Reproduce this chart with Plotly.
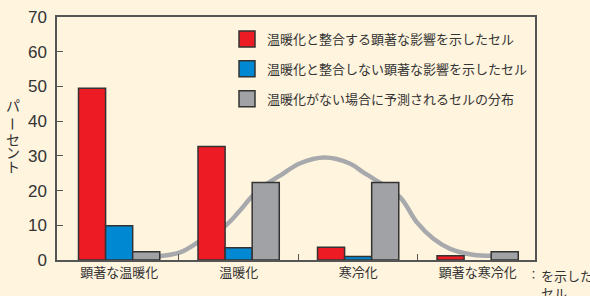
import plotly.graph_objects as go

categories = ["顕著な温暖化", "温暖化", "寒冷化", "顕著な寒冷化"]
series_names = [
    "温暖化と整合する顕著な影響を示したセル",
    "温暖化と整合しない顕著な影響を示したセル",
    "温暖化がない場合に予測されるセルの分布",
]
red_values = [49.5, 32.7, 3.7, 1.2]
blue_values = [9.9, 3.5, 1.0, None]
gray_values = [2.4, 22.3, 22.3, 2.4]

# distribution curve (x in category units)
curve_x = [0.30, 0.51, 0.66, 0.89, 1.00, 1.12, 1.24, 1.35, 1.51, 1.72, 1.93, 2.04, 2.13, 2.35, 2.49, 2.63, 2.77, 2.96, 3.12]
curve_y = [1.0, 2.2, 5.1, 9.9, 13.8, 18.6, 22.0, 24.4, 27.8, 29.5, 27.8, 25.3, 23.4, 18.1, 10.9, 6.1, 3.2, 1.5, 1.2]

y_ticks = [0, 10, 20, 30, 40, 50, 60, 70]
boundary_ticks = [0.5, 1.5, 2.5]
y_label_chars = ["パ", "ー", "セ", "ン", "ト"]

BG = "#FFF4DE"
TXT = "#333333"
AX = "#555555"
colors = ["#ED1C24", "#0089D2", "#A0A2A6"]

x_pos = list(range(len(categories)))

# plot-area geometry in pixels (for placing free text)
L, R, T, B = 57, 535, 17, 260
def px_x(px):
    return (px - L) / (R - L)
def px_y(py):
    return (B - py) / (B - T)

fig = go.Figure()
# curve on the base subplot (drawn underneath)
fig.add_trace(go.Scatter(
    x=curve_x, y=curve_y, mode="lines", line=dict(color="#A7A9AC", width=4.5, shape="spline"),
    showlegend=False, hoverinfo="skip",
))
# bars on the overlaying subplot (drawn on top of the curve)
for name, vals, col, grp in zip(series_names, [red_values, blue_values, gray_values], colors, ["a", "b", "c"]):
    fig.add_trace(go.Bar(
        x=x_pos, y=vals, name=name, marker=dict(color=col, line=dict(color="#333333", width=1.5)),
        legendgroup=grp, showlegend=False, xaxis="x2", yaxis="y2",
    ))
# legend entries with larger square swatches
for name, col, grp in zip(series_names, colors, ["a", "b", "c"]):
    fig.add_trace(go.Scatter(
        x=[None], y=[None], mode="markers", name=name, legendgroup=grp,
        marker=dict(symbol="square", size=17, color=col, line=dict(color="#333333", width=1.5)),
        xaxis="x2", yaxis="y2",
    ))

fig.update_layout(
    width=590, height=296,
    margin=dict(l=L, r=590 - R, t=T, b=296 - B, autoexpand=False),
    paper_bgcolor=BG, plot_bgcolor=BG,
    barmode="group", bargap=0.32, bargroupgap=0,
    font=dict(family="Noto Sans CJK JP, sans-serif", color=TXT, size=13),
    legend=dict(
        x=px_x(227), y=px_y(24), xanchor="left", yanchor="top",
        bgcolor="rgba(0,0,0,0)", font=dict(size=13, color=TXT),
        tracegroupgap=10, itemwidth=30,
    ),
    showlegend=True,
    xaxis=dict(
        range=[-0.52, 3.48], tickmode="array", tickvals=x_pos, ticktext=categories,
        ticks="", showline=True, linecolor=AX, linewidth=1.5, mirror=True,
        showgrid=False, zeroline=False, tickfont=dict(size=13, color=TXT),
    ),
    xaxis2=dict(
        overlaying="x", range=[-0.52, 3.48], side="bottom", tickmode="array", tickvals=boundary_ticks,
        ticks="inside", ticklen=6, tickcolor=AX, tickwidth=1.2, showticklabels=False,
        showline=False, showgrid=False, zeroline=False,
    ),
    yaxis=dict(
        range=[0, 70], tickmode="array", tickvals=y_ticks, ticks="inside", ticklen=6,
        tickcolor=AX, tickwidth=1.2, ticklabelstandoff=5,
        showline=True, linecolor=AX, linewidth=1.5, mirror=True,
        showgrid=False, zeroline=False,
        tickfont=dict(family="Liberation Sans, Arial, sans-serif", size=17, color=TXT),
    ),
    yaxis2=dict(
        overlaying="y", range=[0, 70], showticklabels=False, ticks="",
        showline=False, showgrid=False, zeroline=False,
    ),
)

# vertical y-axis label, one character per line
label_y = [105, 124, 139, 152, 166]
for ch, py in zip(y_label_chars, label_y):
    fig.add_annotation(xref="paper", yref="paper", x=px_x(13), y=px_y(py), text=ch, showarrow=False,
                       textangle=90 if ch == "ー" else 0, borderpad=0,
                       font=dict(size=14, color=TXT), xanchor="center", yanchor="middle")

# cut-off note at bottom right
fig.add_annotation(xref="paper", yref="paper", x=px_x(533.5), y=px_y(265), text="：", showarrow=False,
                   font=dict(size=11, color=TXT), xanchor="center", yanchor="top", borderpad=0)
fig.add_annotation(xref="paper", yref="paper", x=px_x(540), y=px_y(265), text="を示した<br>セル", showarrow=False,
                   font=dict(size=13, color=TXT), xanchor="left", yanchor="top", align="left", borderpad=0)

fig.write_html(
    "out.html",
    config={"displayModeBar": False},
    post_script="document.body.style.margin='0';document.body.style.background='%s';" % BG,
)
